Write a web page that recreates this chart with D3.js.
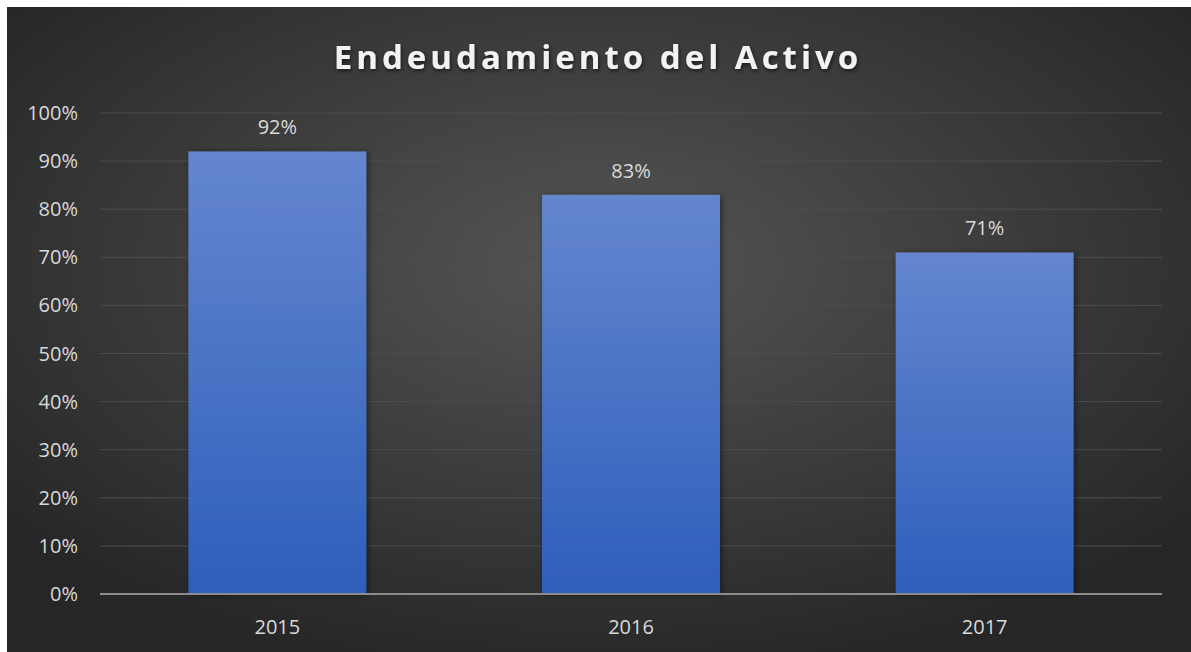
<!DOCTYPE html>
<html>
<head>
<meta charset="utf-8">
<style>
body { margin: 0; background: #fff; }
svg { display: block; }
</style>
</head>
<body>
<svg id="chart" width="1191" height="652"></svg>
<script src="https://cdn.jsdelivr.net/npm/d3@7"></script>
<script>
var years = ["2015", "2016", "2017"];
var ratios = [0.92, 0.83, 0.71];
var yTicks = [0, 0.1, 0.2, 0.3, 0.4, 0.5, 0.6, 0.7, 0.8, 0.9, 1];
var title = "Endeudamiento del Activo";

var svg = d3.select("#chart");
var defs = svg.append("defs");

var bg = defs.append("radialGradient").attr("id", "bg")
  .attr("cx", "50%").attr("cy", "40%").attr("r", "65%");
bg.append("stop").attr("offset", "0%").attr("stop-color", "#555555");
bg.append("stop").attr("offset", "100%").attr("stop-color", "#262626");

var barGrad = defs.append("linearGradient").attr("id", "bar")
  .attr("x1", 0).attr("y1", 0).attr("x2", 0).attr("y2", 1);
barGrad.append("stop").attr("offset", "0%").attr("stop-color", "#6586cf");
barGrad.append("stop").attr("offset", "100%").attr("stop-color", "#2d5fbb");

var shadow = defs.append("filter").attr("id", "shadow")
  .attr("x", "-10%").attr("y", "-10%").attr("width", "130%").attr("height", "130%");
shadow.append("feDropShadow").attr("dx", 2).attr("dy", 1).attr("stdDeviation", 3)
  .attr("flood-color", "#000").attr("flood-opacity", 0.45);

var titleShadow = defs.append("filter").attr("id", "tshadow");
titleShadow.append("feDropShadow").attr("dx", 1).attr("dy", 2).attr("stdDeviation", 2)
  .attr("flood-color", "#000").attr("flood-opacity", 0.6);

svg.append("rect").attr("x", 7).attr("y", 7).attr("width", 1184).attr("height", 645)
  .attr("fill", "url(#bg)");

var x = d3.scaleBand().domain(years).range([100, 1162]).paddingInner(0.497).paddingOuter(0.25);
var y = d3.scaleLinear().domain([0, 1]).range([594, 113]);

// gridlines
svg.append("g").selectAll("line").data(yTicks.slice(1)).join("line")
  .attr("x1", 100).attr("x2", 1162)
  .attr("y1", function(d) { return y(d); }).attr("y2", function(d) { return y(d); })
  .attr("stroke", "#4d4d4d").attr("stroke-width", 1);

var fmt = d3.format(".0%");
var font = "'Open Sans', sans-serif";

// y axis labels
svg.append("g").selectAll("text").data(yTicks).join("text")
  .attr("x", 78).attr("y", function(d) { return y(d); })
  .attr("dy", "0.35em").attr("text-anchor", "end")
  .attr("font-family", font).attr("font-size", 20)
  .attr("fill", "#d9d9d9")
  .text(function(d) { return fmt(d); });

// bars
svg.append("g").selectAll("rect").data(ratios).join("rect")
  .attr("x", function(d, i) { return x(years[i]); })
  .attr("width", x.bandwidth())
  .attr("y", function(d) { return y(d); })
  .attr("height", function(d) { return y(0) - y(d); })
  .attr("fill", "url(#bar)")
  .attr("filter", "url(#shadow)");

// value labels
svg.append("g").selectAll("text").data(ratios).join("text")
  .attr("x", function(d, i) { return x(years[i]) + x.bandwidth() / 2; })
  .attr("y", function(d) { return y(d) - 24; })
  .attr("dy", "0.35em")
  .attr("text-anchor", "middle")
  .attr("font-family", font).attr("font-size", 20)
  .attr("fill", "#d9d9d9")
  .text(function(d) { return fmt(d); });

// x axis line
svg.append("line").attr("x1", 100).attr("x2", 1162).attr("y1", y(0)).attr("y2", y(0))
  .attr("stroke", "#8c8c8c").attr("stroke-width", 2);

// x labels
svg.append("g").selectAll("text").data(years).join("text")
  .attr("x", function(d) { return x(d) + x.bandwidth() / 2; })
  .attr("y", 627).attr("dy", "0.35em")
  .attr("text-anchor", "middle")
  .attr("font-family", font).attr("font-size", 20)
  .attr("fill", "#d9d9d9")
  .text(function(d) { return d; });

// title
svg.append("text").attr("x", 598).attr("y", 57).attr("dy", "0.35em")
  .attr("text-anchor", "middle")
  .attr("font-family", font).attr("font-weight", "bold")
  .attr("font-size", 33).attr("letter-spacing", 4)
  .attr("fill", "#f2f2f2").attr("filter", "url(#tshadow)")
  .text(title);
</script>
</body>
</html>
